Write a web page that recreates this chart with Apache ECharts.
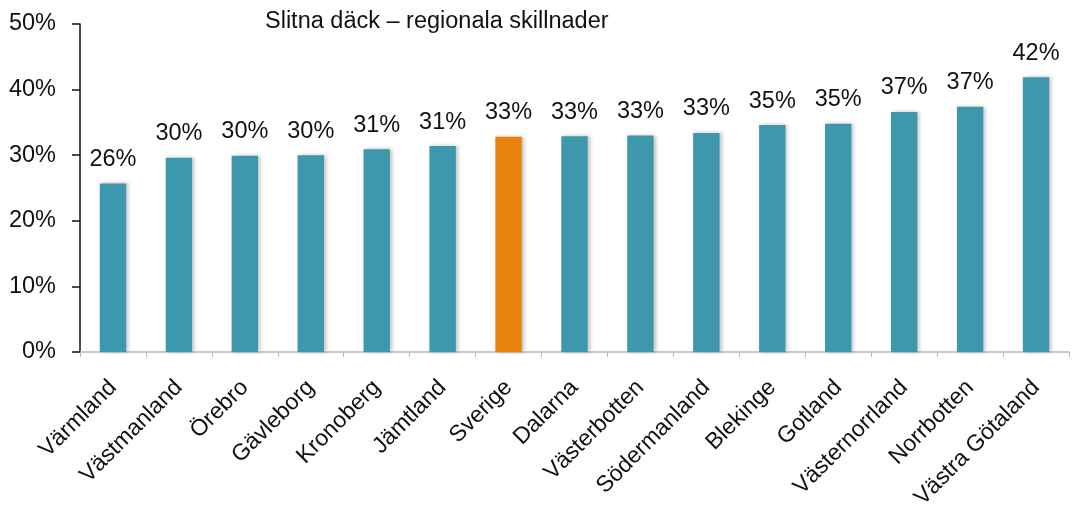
<!DOCTYPE html>
<html>
<head>
<meta charset="utf-8">
<script src="https://cdn.jsdelivr.net/npm/echarts@6/dist/echarts.min.js"></script>
<style>
  html, body { margin: 0; padding: 0; background: #fff; }
  #chart { width: 1080px; height: 510px; }
</style>
</head>
<body>
<div id="chart"></div>
<script>
// regioner, sorterade efter andel slitna däck
var regions = ['Värmland', 'Västmanland', 'Örebro', 'Gävleborg', 'Kronoberg', 'Jämtland', 'Sverige',
    'Dalarna', 'Västerbotten', 'Södermanland', 'Blekinge', 'Gotland', 'Västernorrland', 'Norrbotten', 'Västra Götaland'];
var shares = [25.7, 29.6, 29.9, 30.0, 30.9, 31.4, 32.8, 32.9, 33.0, 33.4, 34.6, 34.8, 36.6, 37.4, 41.9];
var highlight = 'Sverige';

var teal = '#3d97ad';
var orange = '#e8820b';
var font = 'Liberation Sans, Arial, Helvetica, sans-serif';

var barData = [];
for (var i = 0; i < regions.length; i++) {
    barData.push({
        value: shares[i],
        itemStyle: { color: regions[i] === highlight ? orange : teal }
    });
}

var myChart = echarts.init(document.getElementById('chart'));
var option = {
    animation: false,
    title: {
        text: 'Slitna däck – regionala skillnader',
        left: 260,
        top: 5,
        textStyle: { fontFamily: font, fontSize: 23.5, fontWeight: 'normal', color: '#111' }
    },
    grid: {
        left: 80,
        right: 11,
        top: 24,
        bottom: 158,
        containLabel: false,
        outerBoundsMode: 'none'
    },
    xAxis: {
        type: 'category',
        data: regions,
        axisLine: { lineStyle: { color: '#b8b8b8', width: 1.5 } },
        axisTick: { show: true, length: 5, lineStyle: { color: '#b8b8b8' } },
        axisLabel: {
            interval: 0,
            rotate: 45,
            margin: 32,
            fontFamily: font,
            fontSize: 23,
            color: '#111'
        }
    },
    yAxis: {
        type: 'value',
        min: 0,
        max: 50,
        interval: 10,
        splitLine: { show: false },
        axisLine: { show: true, lineStyle: { color: '#111', width: 1.5 } },
        axisTick: { show: true, inside: false, length: 8, lineStyle: { color: '#111', width: 1.5 } },
        axisLabel: {
            margin: 24,
            fontFamily: font,
            fontSize: 23.5,
            color: '#111',
            formatter: function(v) { return v + '%'; }
        }
    },
    series: [{
        type: 'bar',
        data: barData,
        barWidth: '40%',
        itemStyle: {
            shadowColor: 'rgba(0,0,0,0.25)',
            shadowBlur: 4,
            shadowOffsetX: 2,
            shadowOffsetY: 0
        },
        label: {
            show: true,
            position: 'top',
            distance: 12,
            fontFamily: font,
            fontSize: 23.5,
            color: '#111',
            formatter: function(p) { return Math.round(p.value) + '%'; }
        }
    }]
};
myChart.setOption(option);
</script>
</body>
</html>
